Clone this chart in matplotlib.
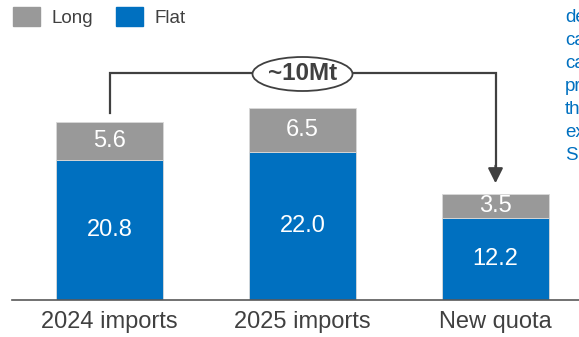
import matplotlib
matplotlib.use("Agg")
import matplotlib.pyplot as plt
from matplotlib.patches import Ellipse, Patch

categories = ["2024 imports", "2025 imports", "New quota"]
flat = [20.8, 22.0, 12.2]
long_ = [5.6, 6.5, 3.5]
gap_label = "~10Mt"
side_text = ["de", "ca", "ca", "pr", "th", "ex", "S"]

BLUE = "#0070C0"
GRAY = "#999999"
DARK = "#404040"

plt.rcParams["font.family"] = ["Liberation Sans", "DejaVu Sans"]

W, H = 579, 337
fig = plt.figure(figsize=(W / 100, H / 100), dpi=100)
ax_left, ax_bottom = 12, 37
ax = fig.add_axes([ax_left / W, ax_bottom / H, 1 - ax_left / W, 1 - ax_bottom / H])

pxx = 193.0
pxy = 6.75
x0 = -(109.5 - ax_left) / pxx
ax.set_xlim(x0, x0 + (W - ax_left) / pxx)
ax.set_ylim(0, (H - ax_bottom) / pxy)

xs = list(range(len(categories)))
bw = 107 / pxx
ax.bar(xs, flat, width=bw, color=BLUE, edgecolor="#d9d9d9", linewidth=0.6, label="Flat", zorder=2)
ax.bar(xs, long_, width=bw, bottom=flat, color=GRAY, edgecolor="#d9d9d9", linewidth=0.6, label="Long", zorder=2)

for x, f, l in zip(xs, flat, long_):
    ax.text(x, f / 2, f"{f:.1f}", ha="center", va="center", color="white", fontsize=17)
    ax.text(x, f + l / 2, f"{l:.1f}", ha="center", va="center", color="white", fontsize=17)

for s in ["top", "left", "right"]:
    ax.spines[s].set_visible(False)
ax.spines["bottom"].set_color("#595959")
ax.spines["bottom"].set_linewidth(1.2)
ax.set_yticks([])
ax.set_xticks(xs)
ax.set_xticklabels(categories, fontsize=17, color=DARK)
ax.tick_params(axis="x", length=0, pad=8)

# bracket
top0 = flat[0] + long_[0]
top2 = flat[2] + long_[2]
yb = (300 - 72.5) / pxy
ax.plot([0, 0, 2, 2], [top0 + 1.3, yb, yb, top2 + 4.0], color=DARK, lw=1.6,
        solid_joinstyle="miter", zorder=3)
ax.annotate("", xy=(2, top2 + 1.6), xytext=(2, top2 + 4.2),
            arrowprops=dict(arrowstyle="-|>,head_length=0.9,head_width=0.45",
                            color=DARK, lw=1.6, shrinkA=0, shrinkB=0), zorder=3)
ax.add_patch(Ellipse((1, (300 - 74) / pxy), 100 / pxx, 34 / pxy, facecolor="white",
                     edgecolor=DARK, lw=1.3, zorder=4))
ax.text(1, (300 - 74) / pxy, gap_label, ha="center", va="center", fontsize=17.5,
        fontweight="bold", color=DARK, zorder=5)

# legend
handles = [Patch(color=GRAY, label="Long"), Patch(color=BLUE, label="Flat")]
fig.legend(handles=handles, loc="upper left", bbox_to_anchor=(13 / W, 1 - 7 / H),
           ncol=2, frameon=False, fontsize=13.5, handlelength=1.45, handleheight=1.15,
           handletextpad=0.6, columnspacing=1.2, borderaxespad=0, borderpad=0,
           labelcolor=DARK)

for i, t in enumerate(side_text):
    fig.text(565 / W, 1 - (22 + 23 * i) / H, t, ha="left", va="baseline",
             fontsize=13.5, color=BLUE)

fig.savefig("out.png", dpi=100)
